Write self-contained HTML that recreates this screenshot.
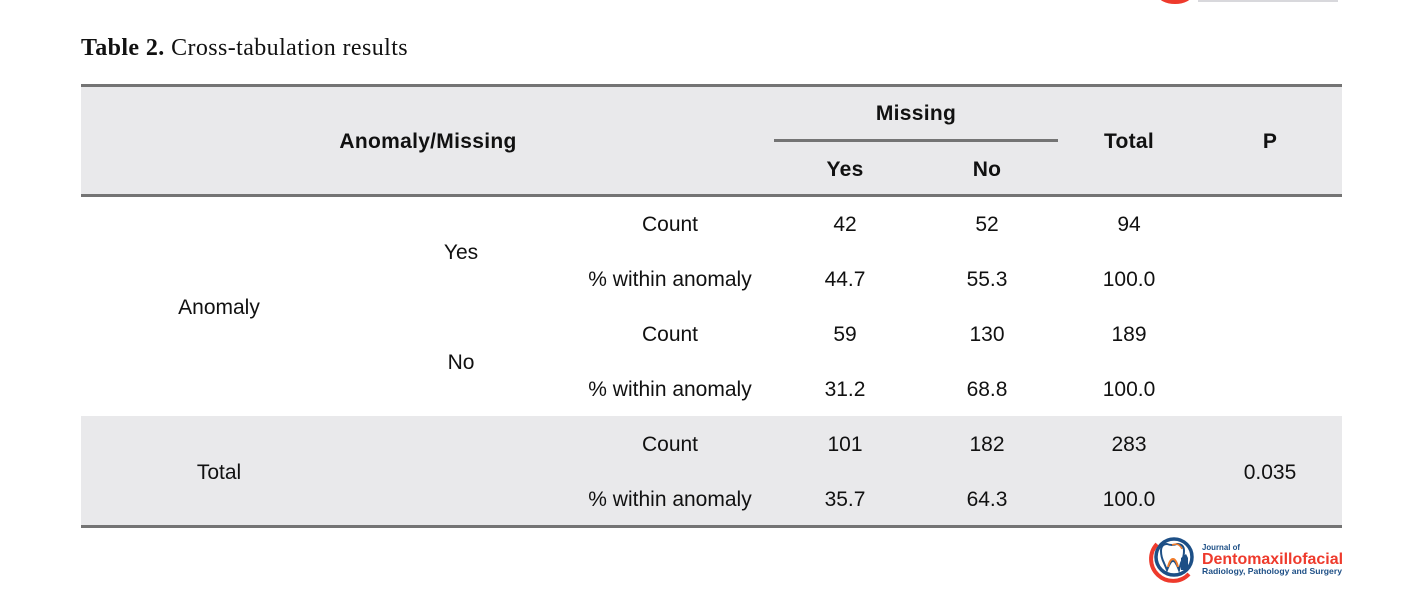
<!DOCTYPE html>
<html>
<head>
<meta charset="utf-8">
<style>
html,body{margin:0;padding:0;background:#fff;}
body{width:1426px;height:600px;position:relative;overflow:hidden;font-family:"Liberation Sans",Arial,sans-serif;color:#111;}
.t{position:absolute;height:30px;line-height:30px;font-size:21px;text-align:center;white-space:nowrap;}
.b{font-weight:bold;letter-spacing:0.3px;}
.bg{position:absolute;background:#e9e9eb;}
.rule{position:absolute;background:#747474;}
</style>
</head>
<body>
<!-- top remnant of previous logo -->
<div style="position:absolute;left:1158px;top:-14px;width:34px;height:18px;border-radius:50%;background:#ee3a2c;"></div>
<div style="position:absolute;left:1198px;top:0;width:140px;height:2px;background:#d8d8dc;"></div>

<div style="position:absolute;left:81px;top:31px;font-family:'Liberation Serif',serif;font-size:24px;letter-spacing:0.4px;line-height:34px;white-space:nowrap;color:#111;"><b>Table 2.</b> Cross-tabulation results</div>

<!-- header background -->
<div class="bg" style="left:81px;top:87px;width:1261px;height:107px;"></div>
<div class="rule" style="left:81px;top:84px;width:1261px;height:3px;"></div>
<div class="rule" style="left:81px;top:194px;width:1261px;height:3px;"></div>
<div class="rule" style="left:774px;top:139px;width:284px;height:3px;"></div>

<!-- total background -->
<div class="bg" style="left:81px;top:416px;width:1261px;height:109px;"></div>
<div class="rule" style="left:81px;top:525px;width:1261px;height:3px;"></div>

<!-- header text -->
<div class="t b" style="left:278px;width:300px;top:127px;">Anomaly/Missing</div>
<div class="t b" style="left:816px;width:200px;top:99px;">Missing</div>
<div class="t b" style="left:795px;width:100px;top:155px;">Yes</div>
<div class="t b" style="left:937px;width:100px;top:155px;">No</div>
<div class="t b" style="left:1079px;width:100px;top:127px;">Total</div>
<div class="t b" style="left:1220px;width:100px;top:127px;">P</div>

<!-- row group labels -->
<div class="t" style="left:119px;width:200px;top:293px;">Anomaly</div>
<div class="t" style="left:119px;width:200px;top:458px;">Total</div>
<div class="t" style="left:411px;width:100px;top:238px;">Yes</div>
<div class="t" style="left:411px;width:100px;top:348px;">No</div>

<!-- row 1 -->
<div class="t" style="left:570px;width:200px;top:210px;">Count</div>
<div class="t" style="left:795px;width:100px;top:210px;">42</div>
<div class="t" style="left:937px;width:100px;top:210px;">52</div>
<div class="t" style="left:1079px;width:100px;top:210px;">94</div>
<!-- row 2 -->
<div class="t" style="left:570px;width:200px;top:265px;">% within anomaly</div>
<div class="t" style="left:795px;width:100px;top:265px;">44.7</div>
<div class="t" style="left:937px;width:100px;top:265px;">55.3</div>
<div class="t" style="left:1079px;width:100px;top:265px;">100.0</div>
<!-- row 3 -->
<div class="t" style="left:570px;width:200px;top:320px;">Count</div>
<div class="t" style="left:795px;width:100px;top:320px;">59</div>
<div class="t" style="left:937px;width:100px;top:320px;">130</div>
<div class="t" style="left:1079px;width:100px;top:320px;">189</div>
<!-- row 4 -->
<div class="t" style="left:570px;width:200px;top:375px;">% within anomaly</div>
<div class="t" style="left:795px;width:100px;top:375px;">31.2</div>
<div class="t" style="left:937px;width:100px;top:375px;">68.8</div>
<div class="t" style="left:1079px;width:100px;top:375px;">100.0</div>
<!-- row 5 -->
<div class="t" style="left:570px;width:200px;top:430px;">Count</div>
<div class="t" style="left:795px;width:100px;top:430px;">101</div>
<div class="t" style="left:937px;width:100px;top:430px;">182</div>
<div class="t" style="left:1079px;width:100px;top:430px;">283</div>
<!-- row 6 -->
<div class="t" style="left:570px;width:200px;top:485px;">% within anomaly</div>
<div class="t" style="left:795px;width:100px;top:485px;">35.7</div>
<div class="t" style="left:937px;width:100px;top:485px;">64.3</div>
<div class="t" style="left:1079px;width:100px;top:485px;">100.0</div>
<!-- P value -->
<div class="t" style="left:1220px;width:100px;top:458px;">0.035</div>

<!-- logo -->
<svg style="position:absolute;left:1145px;top:530px;" width="205" height="55" viewBox="0 0 205 55">
  <circle cx="29" cy="27" r="18" fill="none" stroke="#1d4f86" stroke-width="3.5"/>
  <path d="M 12 14 A 21 21 0 0 0 44 44" fill="none" stroke="#ee3a2c" stroke-width="4"/>
  <path d="M 16 21 Q 16 14 22 14 Q 27 16 32 14 Q 39 14 39 21 Q 39 27 36 33 L 34 40 Q 32 35 30 32 Q 28 30 26 32 Q 24 35 22 40 L 19 33 Q 16 27 16 21 Z" fill="#fff" stroke="#1d4f86" stroke-width="2"/>
  <path d="M 23 37 Q 25 29 28 29 Q 31 29 33 37" fill="none" stroke="#f07b2a" stroke-width="2"/>
  <path d="M 27 15 Q 34 12 37 19" fill="none" stroke="#f07b2a" stroke-width="1.5"/>
  <path d="M 36 28 L 41 24 L 43 28 L 43 40 L 36 40 Z" fill="#1d4f86"/>
  <text x="57" y="20" font-family="Liberation Sans, sans-serif" font-size="8" font-weight="bold" fill="#1d4f86" textLength="38" lengthAdjust="spacingAndGlyphs">Journal of</text>
  <text x="57" y="34" font-family="Liberation Sans, sans-serif" font-size="16" font-weight="bold" fill="#ee3a2c" textLength="141" lengthAdjust="spacingAndGlyphs">Dentomaxillofacial</text>
  <text x="57" y="44" font-family="Liberation Sans, sans-serif" font-size="8.5" font-weight="bold" fill="#1d4f86" textLength="140" lengthAdjust="spacingAndGlyphs">Radiology, Pathology and Surgery</text>
</svg>
</body>
</html>
